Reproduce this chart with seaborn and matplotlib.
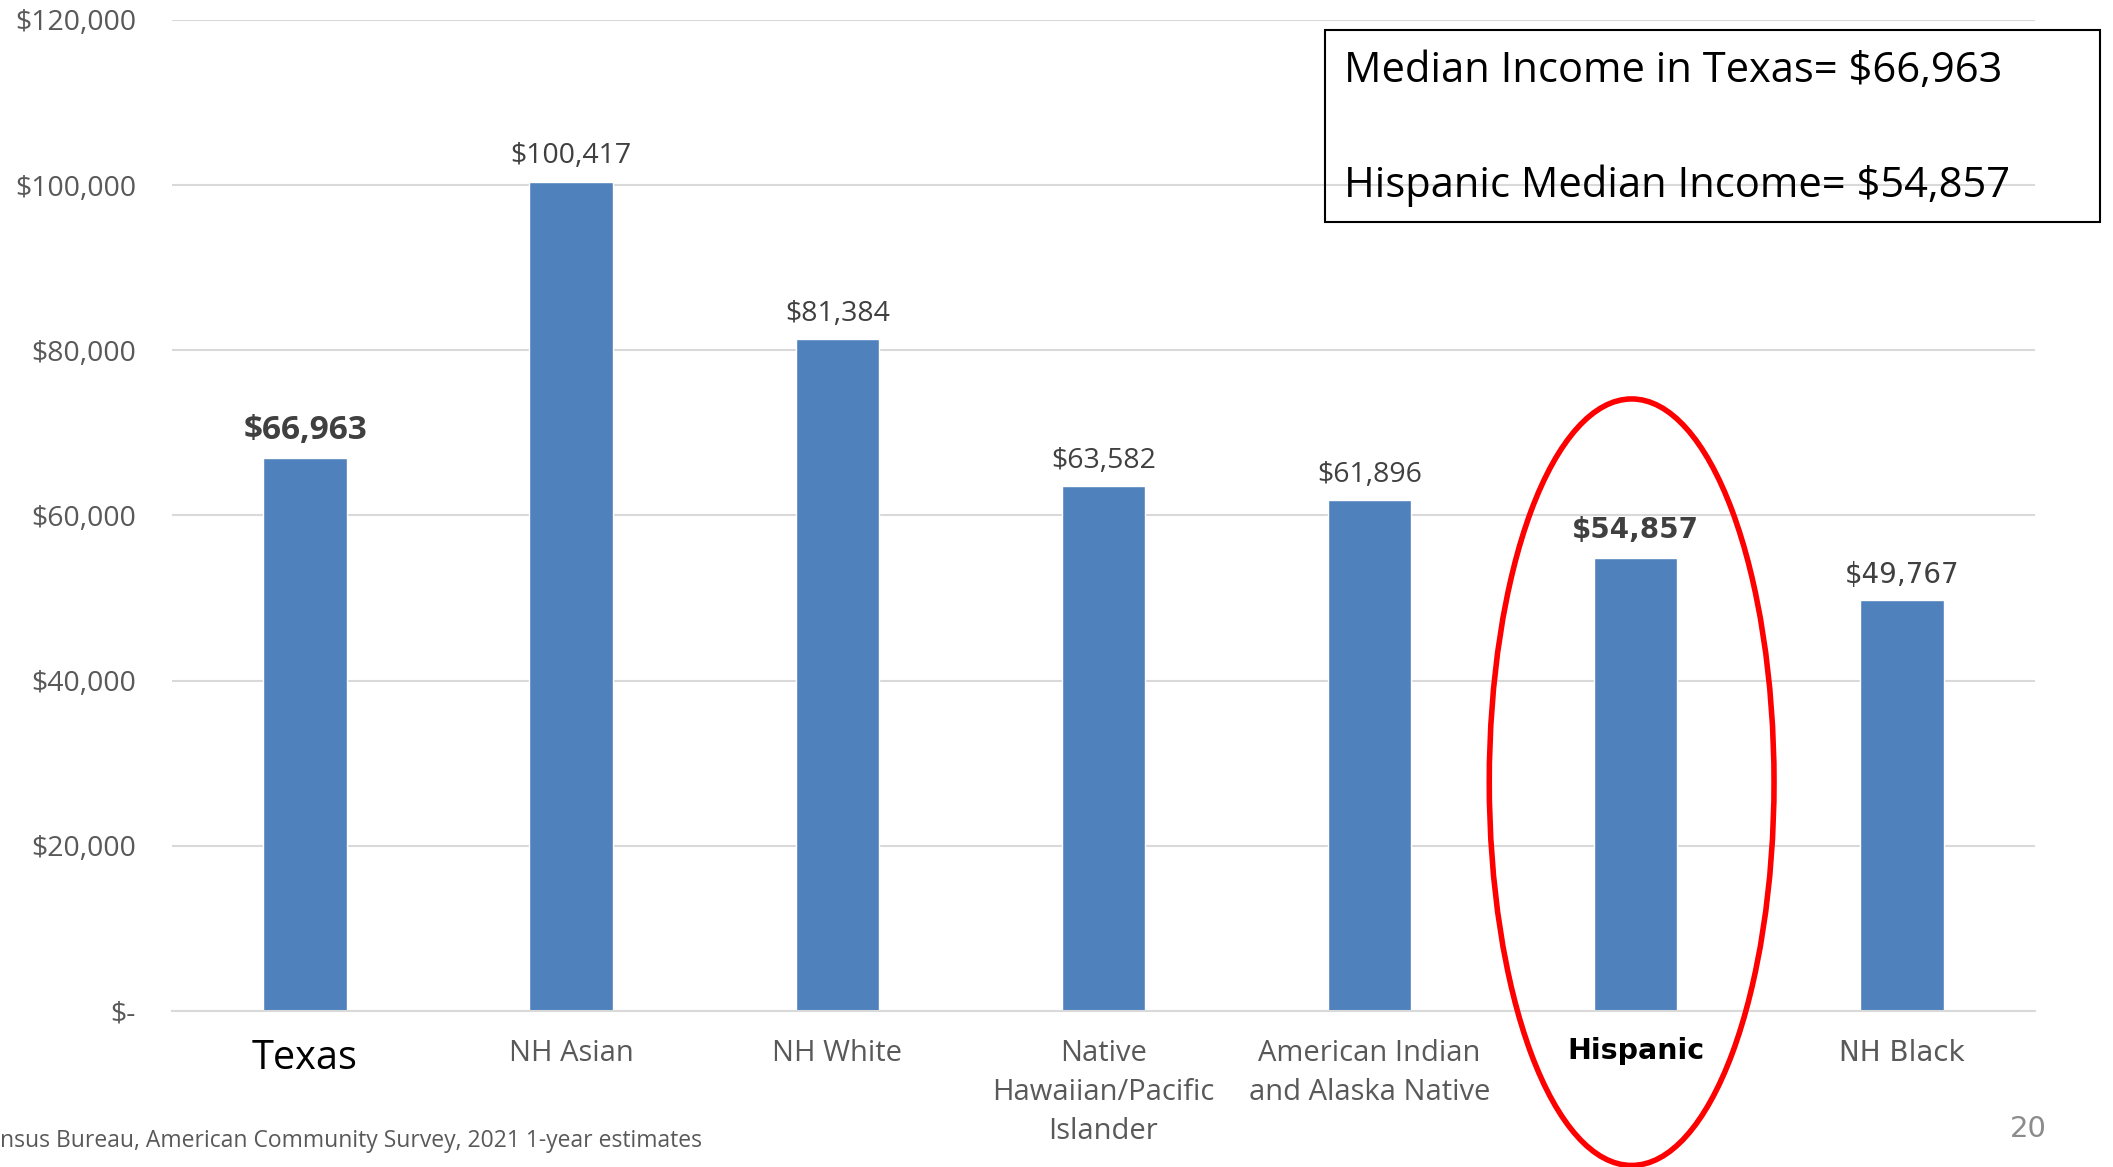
import matplotlib
matplotlib.use("Agg")
import matplotlib.pyplot as plt
import seaborn as sns
import pandas as pd
from matplotlib.patches import Ellipse, Rectangle
from matplotlib.ticker import FuncFormatter

categories = ["Texas", "NH Asian", "NH White", "Native\nHawaiian/Pacific\nIslander",
              "American Indian\nand Alaska Native", "Hispanic", "NH Black"]
incomes = [66963, 100417, 81384, 63582, 61896, 54857, 49767]
y_ticks = [0, 20000, 40000, 60000, 80000, 100000, 120000]
box_lines = ["Median Income in Texas= $66,963", "Hispanic Median Income= $54,857"]
source_note = "nsus Bureau, American Community Survey, 2021 1-year estimates"
page_no = "20"

sns.set_style("white")
NARROW = ["Open Sans", "DejaVu Sans"]
WIDE = ["DejaVu Sans"]
plt.rcParams["font.family"] = NARROW

BAR = "#4F81BD"
GRID = "#D9D9D9"
GRAY = "#595959"
DARK = "#404040"

df = pd.DataFrame({"group": categories, "income": incomes})

fig = plt.figure(figsize=(21.13, 11.67), dpi=100)
ax = fig.add_axes([0.0814, 0.1337, 0.8816, 0.8493])

sns.barplot(data=df, x="group", y="income", color=BAR, width=0.314, ax=ax, saturation=1)

ax.set_ylim(0, 120000)
ax.set_xlim(-0.5, len(categories) - 0.5)
ax.set_yticks(y_ticks)
ax.yaxis.set_major_formatter(FuncFormatter(lambda v, p: "$-" if v == 0 else f"${v:,.0f}"))
ax.grid(axis="y", color=GRID, linewidth=1.5)
ax.set_axisbelow(True)
for s in ["top", "right", "left"]:
    ax.spines[s].set_visible(False)
ax.spines["bottom"].set_color(GRID)
ax.spines["bottom"].set_linewidth(1.5)
ax.set_xlabel("")
ax.set_ylabel("")
ax.tick_params(axis="y", length=0, pad=26, labelsize=20.5, labelcolor=GRAY)
ax.tick_params(axis="x", length=0, pad=20, labelsize=21, labelcolor=GRAY)

for lbl in ax.get_xticklabels():
    t = lbl.get_text()
    lbl.set_linespacing(1.45)
    if t == "Texas":
        lbl.set_fontsize(28.5)
        lbl.set_color("black")
    elif t == "Hispanic":
        lbl.set_family(WIDE)
        lbl.set_fontweight("bold")
        lbl.set_fontsize(20.5)
        lbl.set_color("black")
        lbl.set_y(0.002)
    elif t == "NH Black":
        lbl.set_family(WIDE)
        lbl.set_fontsize(20)

# value labels
for i, (cat, v) in enumerate(zip(categories, incomes)):
    txt = f"${v:,.0f}"
    if cat == "Texas":
        ax.annotate(txt, (i, v), xytext=(0, 8), textcoords="offset points", ha="center",
                    va="bottom", fontsize=24, fontweight="bold", color=DARK)
    elif cat == "Hispanic":
        ax.annotate(txt, (i, v), xytext=(0, 10), textcoords="offset points", ha="center",
                    va="bottom", fontsize=20, fontweight="bold", color=DARK, family=WIDE)
    elif cat == "NH Black":
        ax.annotate(txt, (i, v), xytext=(0, 8), textcoords="offset points", ha="center",
                    va="bottom", fontsize=20, color=DARK, family=WIDE)
    else:
        ax.annotate(txt, (i, v), xytext=(0, 8), textcoords="offset points", ha="center",
                    va="bottom", fontsize=20.5, color=DARK)

# red ellipse around Hispanic
hi = categories.index("Hispanic")
ax.add_patch(Ellipse((hi - 0.015, 27700), 1.07, 92800, fill=False, edgecolor="#FF0000",
                     linewidth=4, clip_on=False, zorder=5))

# summary box
fig.patches.append(Rectangle((0.627, 0.8098), 0.367, 0.1645, transform=fig.transFigure,
                             fill=False, edgecolor="black", linewidth=1.5))
fig.text(0.636, 0.9395, box_lines[0], fontsize=30, color="black", va="center")
fig.text(0.636, 0.8405, box_lines[1], fontsize=30, color="black", va="center")

fig.text(0.0, 1 - 1141 / 1167, source_note, fontsize=16.5, color=GRAY, ha="left", va="center")
fig.text(2028 / 2113, 1 - 1129 / 1167, page_no, fontsize=21, color="#8C8C8C", ha="center",
         va="center", family=WIDE)

fig.savefig("out.png", dpi=100)
